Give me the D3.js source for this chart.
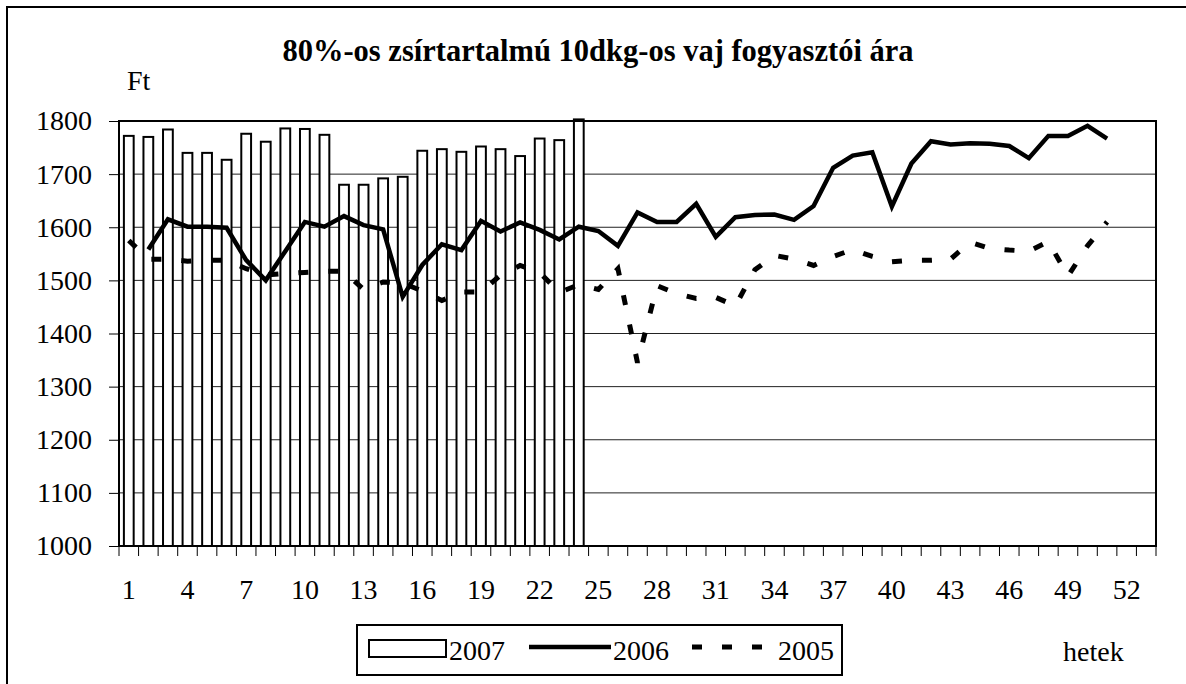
<!DOCTYPE html>
<html>
<head>
<meta charset="utf-8">
<script src="https://cdn.jsdelivr.net/npm/d3@7"></script>
<style>
  body { margin: 0; background: #fff; }
  svg { display: block; font-family: "Liberation Serif", "Times New Roman", serif; }
  .axis text { font-size: 28px; fill: #000; }
  .axis .domain { display: none; }
  .axis line { stroke: #000; stroke-width: 1; }
</style>
</head>
<body>
<div id="chart"></div>
<script>
// weeks (categories) of the year
var weeks = [1, 2, 3, 4, 5, 6, 7, 8, 9, 10, 11, 12, 13, 14, 15, 16, 17, 18, 19, 20,
  21, 22, 23, 24, 25, 26, 27, 28, 29, 30, 31, 32, 33, 34, 35, 36, 37, 38, 39, 40,
  41, 42, 43, 44, 45, 46, 47, 48, 49, 50, 51, 52, 53];
var weekLabels = [1, 4, 7, 10, 13, 16, 19, 22, 25, 28, 31, 34, 37, 40, 43, 46, 49, 52];
var yTicks = [1000, 1100, 1200, 1300, 1400, 1500, 1600, 1700, 1800];

// 2007 - bars, weeks 1..24
var price2007 = [1772, 1770, 1784, 1740, 1740, 1727, 1776, 1761, 1786, 1785, 1774, 1680,
  1680, 1692, 1695, 1744, 1747, 1742, 1752, 1747, 1734, 1767, 1764, 1803];

// 2006 - solid line, weeks 1..53 (null = no data)
var price2006 = [null, 1558, 1615, 1601, 1601, 1599, 1538, 1500, 1555, 1610, 1601, 1621,
  1604, 1596, 1469, 1529, 1568, 1557, 1612, 1592, 1609, 1595, 1577, 1601, 1593, 1565,
  1628, 1610, 1610, 1644, 1582, 1619, 1623, 1624, 1614, 1640, 1712, 1735, 1741, 1639,
  1720, 1762, 1756, 1758, 1757, 1753, 1730, 1772, 1772, 1791, 1767, null, null];

// 2005 - dashed line, weeks 1..53
var price2005 = [1575, 1540, 1540, 1536, 1538, 1538, 1522, 1510, 1513, 1515, 1517, 1517,
  1483, 1497, 1495, 1480, 1462, 1478, 1478, 1510, 1528, 1515, 1477, 1492, 1483, 1522,
  1345, 1490, 1475, 1466, 1468, 1452, 1520, 1547, 1540, 1528, 1545, 1558, 1545, 1535,
  1538, 1538, 1540, 1572, 1560, 1557, 1555, 1573, 1508, 1565, 1610, null, null];

var W = 1186, H = 684;
var plot = {left: 119, right: 1156, top: 121, bottom: 546};
var serif = '"Liberation Serif", "Times New Roman", serif';

var svg = d3.select('#chart').append('svg')
  .attr('width', W)
  .attr('height', H);

// outer frame of the chart object (runs off the page at right and bottom)
svg.append('rect')
  .attr('x', 7).attr('y', 7)
  .attr('width', 1300).attr('height', 800)
  .attr('fill', 'none')
  .attr('stroke', '#000')
  .attr('stroke-width', 2);

var x = d3.scaleBand().domain(weeks).range([plot.left, plot.right]);
var y = d3.scaleLinear().domain([1000, 1800]).range([plot.bottom, plot.top]);
var cx = function(w) { return x(w) + x.bandwidth() / 2; };

// gridlines
svg.append('g')
  .selectAll('line')
  .data(yTicks.slice(1, -1))
  .join('line')
  .attr('x1', plot.left).attr('x2', plot.right)
  .attr('y1', function(d) { return y(d); })
  .attr('y2', function(d) { return y(d); })
  .attr('stroke', '#222')
  .attr('stroke-width', 1);

// bars 2007
var barW = x.bandwidth() * 0.5;
svg.append('g')
  .selectAll('rect')
  .data(price2007)
  .join('rect')
  .attr('x', function(d, i) { return cx(weeks[i]) - barW / 2; })
  .attr('y', function(d) { return y(d); })
  .attr('width', barW)
  .attr('height', function(d) { return y(1000) - y(d); })
  .attr('fill', '#fff')
  .attr('stroke', '#000')
  .attr('stroke-width', 2);

// plot frame
svg.append('rect')
  .attr('x', plot.left).attr('y', plot.top)
  .attr('width', plot.right - plot.left).attr('height', plot.bottom - plot.top)
  .attr('fill', 'none')
  .attr('stroke', '#000')
  .attr('stroke-width', 2);

// y axis
svg.append('g')
  .attr('class', 'y axis')
  .attr('transform', 'translate(' + plot.left + ',0)')
  .call(d3.axisLeft(y).tickValues(yTicks).tickSize(10).tickPadding(17).tickFormat(d3.format('d')))
  .attr('font-family', serif);

// x axis: tick marks at every week boundary, labels every third week
svg.append('g')
  .selectAll('line')
  .data(weeks.concat(['end']))
  .join('line')
  .attr('x1', function(d) { return d === 'end' ? plot.right : x(d); })
  .attr('x2', function(d) { return d === 'end' ? plot.right : x(d); })
  .attr('y1', plot.bottom).attr('y2', plot.bottom + 10)
  .attr('stroke', '#000');

svg.append('g')
  .attr('class', 'x axis')
  .attr('transform', 'translate(0,' + plot.bottom + ')')
  .call(d3.axisBottom(x).tickValues(weekLabels).tickSize(0).tickPadding(33))
  .attr('font-family', serif);

// lines
var line = d3.line()
  .defined(function(d) { return d != null; })
  .x(function(d, i) { return cx(weeks[i]); })
  .y(function(d) { return y(d); });

svg.append('path')
  .datum(price2005)
  .attr('d', line)
  .attr('fill', 'none')
  .attr('stroke', '#000')
  .attr('stroke-width', 5)
  .attr('stroke-dasharray', '10,20');

svg.append('path')
  .datum(price2006)
  .attr('d', line)
  .attr('fill', 'none')
  .attr('stroke', '#000')
  .attr('stroke-width', 4.5)
  .attr('stroke-linejoin', 'miter');

// title and axis names
svg.append('text')
  .attr('x', 598).attr('y', 61)
  .attr('text-anchor', 'middle')
  .style('font-size', '30.5px')
  .style('font-weight', 'bold')
  .text('80%-os zsírtartalmú 10dkg-os vaj fogyasztói ára');

svg.append('text')
  .attr('x', 127).attr('y', 90)
  .style('font-size', '28px')
  .text('Ft');

svg.append('text')
  .attr('x', 1063).attr('y', 661)
  .style('font-size', '28px')
  .text('hetek');

// legend
var legend = svg.append('g');
legend.append('rect')
  .attr('x', 357).attr('y', 625)
  .attr('width', 485).attr('height', 50)
  .attr('fill', '#fff')
  .attr('stroke', '#000')
  .attr('stroke-width', 2);
legend.append('rect')
  .attr('x', 369).attr('y', 640)
  .attr('width', 77).attr('height', 17)
  .attr('fill', '#fff')
  .attr('stroke', '#000')
  .attr('stroke-width', 2);
legend.append('line')
  .attr('x1', 529).attr('x2', 611)
  .attr('y1', 647).attr('y2', 647)
  .attr('stroke', '#000')
  .attr('stroke-width', 4.5);
legend.append('line')
  .attr('x1', 692).attr('x2', 764)
  .attr('y1', 647).attr('y2', 647)
  .attr('stroke', '#000')
  .attr('stroke-width', 5)
  .attr('stroke-dasharray', '10,20');

var legendItems = [['2007', 449], ['2006', 613], ['2005', 778]];
legend.selectAll('text')
  .data(legendItems)
  .join('text')
  .attr('x', function(d) { return d[1]; })
  .attr('y', 660)
  .style('font-size', '28px')
  .text(function(d) { return d[0]; });
</script>
</body>
</html>
